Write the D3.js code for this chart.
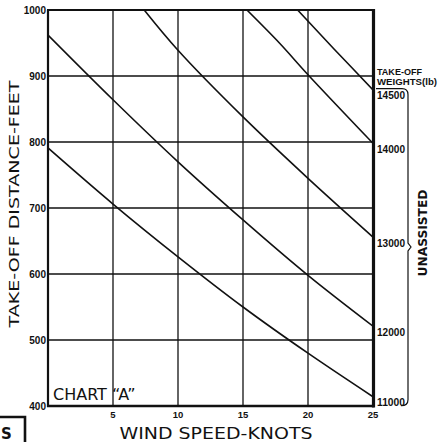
<!DOCTYPE html>
<html>
<head>
<meta charset="utf-8">
<script src="https://cdn.jsdelivr.net/npm/d3@7"></script>
<style>
  html, body { margin: 0; padding: 0; background: #fff; }
  svg { display: block; }
</style>
</head>
<body>
<div id="chart"></div>
<script>
// take-off distance (ft) against wind speed (knots), one curve per weight
const weightLabels = ['11000', '12000', '13000', '14000', '14500'];
const series11000 = [[0, 791], [5, 706], [10, 626], [15, 550], [20, 480], [25, 414]];
const series12000 = [[0, 962], [5, 864], [10, 770], [15, 682], [20, 598], [25, 521]];
const series13000 = [[7.4, 1000], [10, 939], [15, 838], [20, 745], [25, 656]];
const series14000 = [[15.3, 1000], [17.8, 950], [20, 902], [25, 798]];
const series14500 = [[19.2, 1000], [22, 941], [25, 879]];
const xTicks = [5, 10, 15, 20, 25];
const yTicks = [400, 500, 600, 700, 800, 900, 1000];

const allSeries = [series11000, series12000, series13000, series14000, series14500];

const width = 439, height = 442;
const svg = d3.select('#chart').append('svg')
  .attr('width', width)
  .attr('height', height)
  .style('font-family', "'DejaVu Sans', sans-serif");

const x = d3.scaleLinear().domain([0, 25]).range([48, 373]);
const y = d3.scaleLinear().domain([400, 1000]).range([406, 10]);

svg.append('clipPath').attr('id', 'plot-clip')
  .append('rect')
  .attr('x', x(0)).attr('y', y(1000))
  .attr('width', x(25) - x(0)).attr('height', y(400) - y(1000));

// grid
svg.append('g').selectAll('line')
  .data(yTicks.slice(1, -1))
  .join('line')
  .attr('x1', x(0)).attr('x2', x(25))
  .attr('y1', d => y(d)).attr('y2', d => y(d))
  .attr('stroke', '#111').attr('stroke-width', 1.3);

svg.append('g').selectAll('line')
  .data(xTicks.slice(0, -1))
  .join('line')
  .attr('x1', d => x(d)).attr('x2', d => x(d))
  .attr('y1', y(1000)).attr('y2', y(400))
  .attr('stroke', '#111').attr('stroke-width', 1.3);

// CHART "A" tag
svg.append('text')
  .attr('x', 53).attr('y', 400)
  .attr('font-size', 16)
  .attr('fill', '#111')
  .text('CHART \u201CA\u201D');

// curves
const line = d3.line()
  .x(d => x(d[0]))
  .y(d => y(d[1]))
  .curve(d3.curveCatmullRom.alpha(0.5));

svg.append('g')
  .attr('clip-path', 'url(#plot-clip)')
  .selectAll('path')
  .data(allSeries)
  .join('path')
  .attr('d', line)
  .attr('fill', 'none')
  .attr('stroke', '#111')
  .attr('stroke-width', 1.6);

// frame
svg.append('line').attr('x1', x(0) - 1).attr('x2', x(25) + 1).attr('y1', y(1000)).attr('y2', y(1000))
  .attr('stroke', '#111').attr('stroke-width', 2.2);
svg.append('line').attr('x1', x(0)).attr('x2', x(0)).attr('y1', y(1000)).attr('y2', y(400) + 1)
  .attr('stroke', '#111').attr('stroke-width', 2.2);
svg.append('line').attr('x1', x(0) - 1).attr('x2', x(25) + 1).attr('y1', y(400)).attr('y2', y(400))
  .attr('stroke', '#111').attr('stroke-width', 2.6);
svg.append('line').attr('x1', x(25) + 0.5).attr('x2', x(25) + 0.5).attr('y1', y(1000) - 1).attr('y2', y(400) + 1.5)
  .attr('stroke', '#111').attr('stroke-width', 3.2);

// tick labels
svg.append('g').selectAll('text')
  .data(yTicks)
  .join('text')
  .attr('x', 46).attr('y', d => y(d) + 3.5)
  .attr('text-anchor', 'end')
  .attr('font-family', "'Liberation Sans', Arial, sans-serif")
  .attr('font-weight', 'bold')
  .attr('font-size', 10)
  .attr('fill', '#111')
  .text(d => d);

svg.append('g').selectAll('text')
  .data(xTicks)
  .join('text')
  .attr('x', d => x(d)).attr('y', 418)
  .attr('text-anchor', 'middle')
  .attr('font-family', "'Liberation Sans', Arial, sans-serif")
  .attr('font-weight', 'bold')
  .attr('font-size', 9.5)
  .attr('fill', '#111')
  .text(d => d);

// axis titles
svg.append('text')
  .attr('x', 216).attr('y', 439)
  .attr('text-anchor', 'middle')
  .attr('font-size', 16)
  .attr('textLength', 193)
  .attr('lengthAdjust', 'spacingAndGlyphs')
  .attr('fill', '#111')
  .text('WIND SPEED-KNOTS');

svg.append('text')
  .attr('transform', 'translate(19,204) rotate(-90)')
  .attr('text-anchor', 'middle')
  .attr('font-size', 14)
  .attr('textLength', 247)
  .attr('lengthAdjust', 'spacingAndGlyphs')
  .attr('fill', '#111')
  .text('TAKE-OFF DISTANCE-FEET');

// weight labels at the right-hand end of each curve
const rightLabels = svg.append('g')
  .attr('font-family', "'Liberation Sans', Arial, sans-serif")
  .attr('font-weight', 'bold')
  .attr('fill', '#111');

rightLabels.selectAll('text.weight')
  .data(allSeries)
  .join('text')
  .attr('class', 'weight')
  .attr('x', 377)
  .attr('y', d => y(d[d.length - 1][1]) + 9.5)
  .attr('font-size', 10)
  .attr('textLength', 28)
  .attr('lengthAdjust', 'spacingAndGlyphs')
  .text((d, i) => weightLabels[i]);

rightLabels.append('text')
  .attr('x', 377).attr('y', 75)
  .attr('font-size', 9.5)
  .attr('textLength', 45)
  .attr('lengthAdjust', 'spacingAndGlyphs')
  .text('TAKE-OFF');
rightLabels.append('text')
  .attr('x', 377).attr('y', 85)
  .attr('font-size', 9.5)
  .attr('textLength', 60)
  .attr('lengthAdjust', 'spacingAndGlyphs')
  .text('WEIGHTS(lb)');

// brace grouping the weights
const topY = y(series14500[series14500.length - 1][1]) - 1.2;
const botY = y(series11000[series11000.length - 1][1]) + 9;
const tipY = 247;
svg.append('path')
  .attr('d', `M376,${topY} H402 Q408,${topY} 408,${topY + 6} V${tipY - 4} L411,${tipY} L408,${tipY + 4} V${botY - 6} Q408,${botY} 401,${botY}`)
  .attr('fill', 'none')
  .attr('stroke', '#111')
  .attr('stroke-width', 1.2);

svg.append('text')
  .attr('transform', `translate(427,${233}) rotate(-90)`)
  .attr('text-anchor', 'middle')
  .attr('font-size', 11.5)
  .attr('font-weight', 'bold')
  .attr('textLength', 87)
  .attr('lengthAdjust', 'spacingAndGlyphs')
  .attr('fill', '#111')
  .text('UNASSISTED');

// fragment of the neighbouring box at the lower left edge
svg.append('path')
  .attr('d', 'M0,417 H25 V442')
  .attr('fill', 'none')
  .attr('stroke', '#111')
  .attr('stroke-width', 2.6);
svg.append('text')
  .attr('x', 1).attr('y', 439)
  .attr('font-size', 15)
  .attr('font-weight', 'bold')
  .attr('fill', '#111')
  .text('S');
</script>
</body>
</html>
